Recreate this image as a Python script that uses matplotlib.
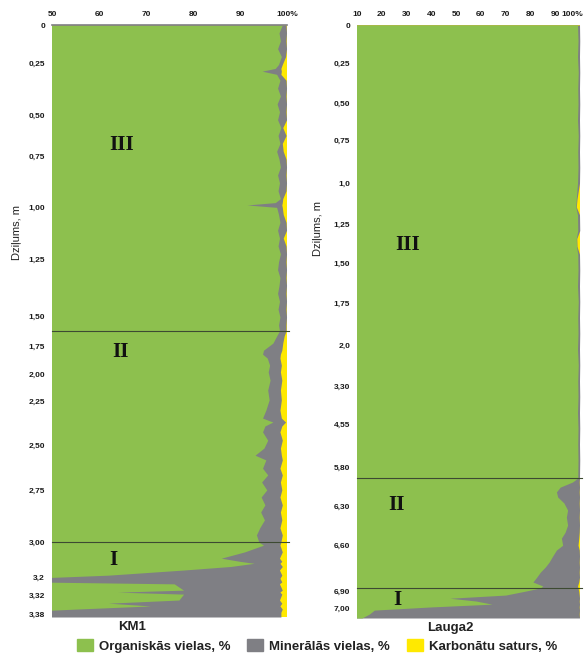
import numpy as np
import matplotlib
matplotlib.use("Agg")
import matplotlib.pyplot as plt
import matplotlib.transforms as mtransforms
from matplotlib.patches import Patch

plt.rcParams['font.family'] = ['Liberation Sans', 'DejaVu Sans']

# krāsas
GREEN = '#8dc04e'
GRAY = '#7f7f84'
YELLOW = '#ffe900'

# KM1: paraugu vieta kolonnā (0 = virsma, 150 = apakša), organiskās vielas % un karbonāti %
km1_pos = [0, 2, 4, 6, 8, 10, 11, 11.7, 12.5, 14, 16, 18, 20, 22, 24, 26, 28, 30, 32, 34, 36, 38, 40, 42, 44,
           45, 45.6, 46.2, 48, 50, 52, 54, 56, 58, 60, 62, 64, 66, 68, 70, 72, 74, 76, 77.5,
           78.8, 80.6, 82.4, 83.4, 84.4, 86.2, 87.9, 90.0, 92.5, 95.0, 97.6, 99.6, 100.6, 101.6, 103.1,
           105.2, 107.2, 109.0, 110.2, 112.3, 114.0, 115.8, 117.8, 119.6, 121.6, 123.4, 125.4, 127.4, 129.2, 131.0,
           131.8, 133.5, 135.1, 135.9, 136.4, 137.2, 138.1, 139.4, 140.2, 141.1, 141.6, 143.2, 143.7, 144.2,
           145.7, 146.5, 147.2, 148.0, 148.8, 150.0]
km1_org = [99.0, 98.3, 98.6, 98.0, 98.8, 98.2, 97.5, 94.7, 97.8, 98.5, 98.0, 98.6, 97.9, 98.4, 98.0, 98.7, 98.1,
           98.5, 97.8, 98.3, 98.6, 98.0, 98.4, 98.1, 98.6, 97.5, 91.5, 97.8, 98.2, 98.5, 98.0, 98.4, 98.1, 98.6,
           98.2, 98.0, 98.5, 98.3, 98.0, 98.4, 98.1, 98.5, 98.2, 98.4,
           97.8, 97.0, 95.0, 94.8, 95.8, 96.3, 96.0, 96.4, 95.9, 96.2, 95.5, 94.8, 97.0, 95.3, 94.8, 95.9, 95.1,
           93.2, 95.5, 94.8, 95.9, 94.6, 95.7, 94.5, 95.3, 94.4, 95.2, 94.2, 93.5, 94.0,
           95.0, 91.0, 86.0, 90.0, 93.0, 88.0, 78.0, 62.0, 45.0, 45.0, 76.0, 78.0, 64.0, 78.0, 77.0, 62.0, 71.0,
           55.0, 40.0, 40.0]
km1_carb = [0.2, 0.1, 0.2, 0.1, 0.3, 1.0, 1.3, 1.2, 1.3, 0.2, 0.1, 0.2, 0.1, 0.2, 0.1, 0.9, 0.2, 1.0, 0.8, 0.2,
            0.1, 0.2, 0.1, 0.2, 0.9, 1.0, 1.1, 1.0, 0.8, 0.2, 0.1, 0.8, 0.2, 0.1, 0.2, 0.1, 0.2, 0.1, 0.2, 0.1,
            0.2, 0.1, 0.2, 0.2,
            0.6, 0.9, 1.1, 1.4, 1.5, 1.2, 1.4, 1.1, 1.4, 1.2, 1.5, 1.2, 0.3, 1.1, 1.5, 1.0, 1.4, 1.2, 1.0, 1.5,
            1.0, 1.4, 1.1, 1.5, 1.0, 1.4, 1.1, 1.5, 1.0, 1.3,
            1.5, 1.0, 1.6, 1.1, 1.5, 1.0, 1.6, 1.1, 1.5, 1.1, 1.6, 1.0, 1.5, 1.1, 1.6, 1.1, 1.5, 1.0, 1.3, 1.3]
km1_tick_pos = [0, 9.6, 22.8, 33.4, 46.1, 59.5, 73.7, 81.3, 88.4, 95.3, 106.4, 117.8, 131.0, 139.9, 144.4, 149.3]
km1_tick_lab = ['0', '0,25', '0,50', '0,75', '1,00', '1,25', '1,50', '1,75', '2,00', '2,25', '2,50', '2,75',
                '3,00', '3,2', '3,32', '3,38']
km1_bounds = [77.5, 131.0]

# Lauga2
lauga_pos = [0, 4, 8, 12, 16, 20, 24, 28, 32, 36, 40, 44, 46, 48, 52, 54, 56, 58, 62, 66, 70, 74, 78, 82, 86,
             90, 94, 98, 102, 106, 110, 114.6,
             115.6, 116.9, 118.1, 119.4, 120.9, 122.7, 124.5, 126.5, 128.3, 129.8, 131.6, 132.8, 134.3, 135.9,
             137.1, 138.4, 139.7, 140.9, 141.9, 142.4,
             143.2, 144.2, 145.0, 145.7, 146.5, 147.2, 148.0, 149.0, 150.0]
lauga_org = [99.0, 99.2, 99.0, 99.3, 99.1, 99.2, 99.0, 99.3, 99.1, 99.2, 99.0, 98.5, 98.3, 99.0, 99.1, 98.5,
             98.6, 99.1, 99.2, 99.0, 99.3, 99.1, 99.2, 99.0, 99.3, 99.1, 99.2, 99.0, 99.2, 99.1, 99.2, 99.1,
             97.0, 92.0, 90.5, 91.0, 93.5, 95.0, 94.5, 95.0, 94.0, 92.5, 93.0, 90.5, 89.0, 87.5, 86.0, 84.0,
             82.5, 81.0, 85.0, 84.0,
             78.0, 70.0, 47.5, 58.0, 64.5, 40.0, 17.0, 15.0, 12.0]
lauga_carb = [0.2, 0.1, 0.2, 0.1, 0.2, 0.1, 0.2, 0.1, 0.2, 0.1, 0.2, 1.2, 1.5, 0.2, 0.1, 1.3, 1.2, 0.2, 0.1,
              0.2, 0.1, 0.2, 0.1, 0.2, 0.1, 0.2, 0.1, 0.2, 0.1, 0.2, 0.1, 0.2,
              0.3, 0.2, 0.3, 0.2, 0.3, 0.2, 0.3, 0.2, 0.3, 0.5, 0.8, 0.3, 0.2, 0.3, 0.2, 0.3, 0.2, 0.5, 1.0, 0.8,
              0.5, 0.3, 0.2, 0.3, 0.2, 0.3, 0.2, 0.3, 0.2]
lauga_tick_pos = [0, 9.6, 19.7, 29.1, 40.0, 50.3, 60.2, 70.3, 81.0, 91.3, 101.0, 111.8, 121.7, 131.6, 143.2, 147.5]
lauga_tick_lab = ['0', '0,25', '0,50', '0,75', '1,0', '1,25', '1,50', '1,75', '2,0', '3,30', '4,55', '5,80',
                  '6,30', '6,60', '6,90', '7,00']
lauga_bounds = [114.6, 142.4]

zone_names = ['III', 'II', 'I']


def draw_core(ax, pos, org, carb, xticks, ticks_pos, ticks_lab, bounds, zone_xy, title, title_x):
    org = np.array(org)
    carb = np.array(carb)
    mineral = 100 - org - carb
    # slāņi: karbonāti apakšā, tad minerālās, tad organiskās
    ax.fill_betweenx(pos, 0, org + mineral + carb, color=YELLOW, lw=0)
    ax.fill_betweenx(pos, 0, org + mineral, color=GRAY, lw=0)
    ax.fill_betweenx(pos, 0, org, color=GREEN, lw=0)

    ax.set_xlim(xticks[0], 100)
    ax.set_ylim(150, 0)
    ax.xaxis.tick_top()
    ax.set_xticks(xticks)
    ax.set_xticklabels([str(t) for t in xticks[:-1]] + ['100%'])
    ax.set_yticks(ticks_pos)
    ax.set_yticklabels(ticks_lab)
    ax.tick_params(length=0, labelsize=6, colors='#1a1a1a', pad=5)
    for lab in ax.get_xticklabels() + ax.get_yticklabels():
        lab.set_fontweight('bold')
    for s in ax.spines.values():
        s.set_visible(False)

    for b in bounds:
        ax.axhline(b, xmin=0, xmax=1.01, color='#3d4a32', lw=0.8, clip_on=False)
    for name, (x, y) in zip(zone_names, zone_xy):
        ax.text(x, y, name, family=['Liberation Serif', 'DejaVu Serif'], fontweight='bold',
                fontsize=15, color='#111111', ha='center', va='center')
    ax.set_xlabel(title, fontsize=9.5, fontweight='bold', color='#222222')
    ax.xaxis.set_label_coords(title_x, -0.006, transform=ax.transAxes)
    ax.xaxis.label.set_va('top')


fig = plt.figure(figsize=(5.84, 6.56), dpi=100)
ax1 = fig.add_axes([52 / 584, 1 - 617 / 656, 235 / 584, 592 / 656])
ax2 = fig.add_axes([357 / 584, 1 - 618 / 656, 223 / 584, 593 / 656])

draw_core(ax1, km1_pos, km1_org, km1_carb, [50, 60, 70, 80, 90, 100], km1_tick_pos, km1_tick_lab,
          km1_bounds, [(64.9, 30.4), (64.5, 82.9), (63.0, 135.6)], 'KM1', 0.34)
draw_core(ax2, lauga_pos, lauga_org, lauga_carb, [10, 20, 30, 40, 50, 60, 70, 80, 90, 100],
          lauga_tick_pos, lauga_tick_lab, lauga_bounds, [(30.6, 55.7), (26.1, 121.4), (26.1, 145.5)],
          'Lauga2', 0.42)

# Lauga2 "100%" pie malas - labā puse, nedaudz pa labi, lai nepārklājas ar 90
last = ax2.get_xticklabels()[-1]
last.set_horizontalalignment('right')
last.set_transform(last.get_transform() + mtransforms.ScaledTranslation(0.03, 0, fig.dpi_scale_trans))

# augšējā pelēkā līnija KM1 kolonnai
ax1.spines['top'].set_visible(True)
ax1.spines['top'].set_color(GRAY)
ax1.spines['top'].set_linewidth(1.2)

fig.text(17 / 584, 1 - 232 / 656, 'Dziļums, m', rotation=90, fontsize=8, color='#222222', ha='center', va='center')
fig.text(318 / 584, 1 - 228 / 656, 'Dziļums, m', rotation=90, fontsize=8, color='#222222', ha='center', va='center')

handles = [Patch(color=GREEN), Patch(color=GRAY), Patch(color=YELLOW)]
labels = ['Organiskās vielas, %', 'Minerālās vielas, %', 'Karbonātu saturs, %']
leg = fig.legend(handles, labels, loc='center', bbox_to_anchor=(317 / 584, 1 - 646 / 656), ncol=3,
                 frameon=False, handlelength=1.2, handleheight=1.0, handletextpad=0.45, columnspacing=1.3,
                 prop={'size': 9.5, 'weight': 'bold'})
for t in leg.get_texts():
    t.set_color('#222222')

fig.savefig('out.png', dpi=100)
